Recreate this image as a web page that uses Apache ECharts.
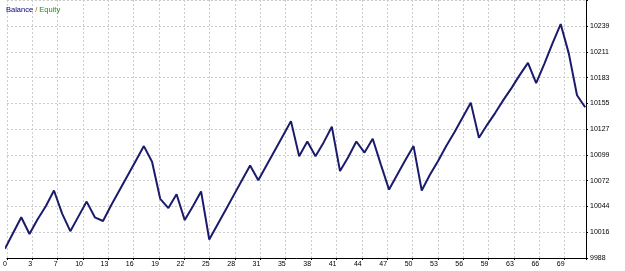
<!DOCTYPE html>
<html>
<head>
<meta charset="utf-8">
<script src="https://cdn.jsdelivr.net/npm/echarts@6/dist/echarts.min.js"></script>
<style>
  html, body { margin: 0; padding: 0; background: #fff; }
  #chart { width: 625px; height: 271px; }
</style>
</head>
<body>
<div id="chart"></div>
<script>
// balance per trade number
const balance = [
  9998, 10015, 10032, 10014, 10030, 10044, 10061, 10036, 10017, 10033,
  10049, 10032, 10028, 10045, 10061, 10077, 10093, 10109, 10092, 10052,
  10042, 10057, 10029, 10044, 10060, 10008, 10024, 10040, 10056, 10072,
  10088, 10072, 10088, 10104, 10120, 10136, 10098, 10114, 10098, 10113,
  10130, 10082, 10097, 10114, 10102, 10117, 10089, 10062, 10078, 10094,
  10109, 10061, 10078, 10093, 10109, 10124, 10140, 10156, 10118, 10132,
  10145, 10159, 10172, 10186, 10199, 10177, 10198, 10220, 10241, 10209,
  10164, 10151
]
const xLabels = ['0','3','7','10','13','16','19','22','25','28','31','35','38','41','44','47','50','53','56','59','63','66','69']
const yLabels = ['9988','10016','10044','10072','10099','10127','10155','10183','10211','10239']

const xMin = 0.24, xStep = 3.1016
const yMin = 9988, yStep = 27.85

const myChart = echarts.init(document.getElementById('chart'))
const option = {
  backgroundColor: '#fff',
  animation: false,
  title: {
    left: 1,
    top: 1,
    text: '{a|Balance} {b|/} {c|Equity}',
    textStyle: {
      fontFamily: 'Liberation Sans',
      fontSize: 7.5,
      fontWeight: 'normal',
      rich: {
        a: { color: '#000080', fontSize: 7.5, fontWeight: 'normal', fontFamily: 'Liberation Sans' },
        b: { color: '#c06000', fontSize: 7.5, fontWeight: 'normal', fontFamily: 'Liberation Sans' },
        c: { color: '#1f8f1f', fontSize: 7.5, fontWeight: 'normal', fontFamily: 'Liberation Sans' }
      }
    }
  },
  grid: {
    left: 0,
    top: 0,
    width: 586,
    height: 258
  },
  xAxis: {
    type: 'value',
    min: xMin,
    max: 71.1,
    interval: xStep,
    axisLine: { show: true, lineStyle: { color: '#000', width: 1 } },
    axisTick: { show: true, length: 2, lineStyle: { color: '#000' } },
    axisLabel: {
      fontSize: 7,
      fontFamily: 'Liberation Sans',
      color: '#000',
      align: 'right',
      margin: 3,
      formatter: function (v) {
        return xLabels[Math.round((v - xMin) / xStep)] || ''
      }
    },
    splitLine: { show: true, lineStyle: { color: '#cccccc', type: [2, 2] } }
  },
  yAxis: {
    type: 'value',
    position: 'right',
    min: yMin,
    max: 10267,
    interval: yStep,
    axisLine: { show: true, lineStyle: { color: '#000', width: 1 } },
    axisTick: { show: true, length: 2, lineStyle: { color: '#000' } },
    axisLabel: {
      fontSize: 7,
      fontFamily: 'Liberation Sans',
      color: '#000',
      margin: 4,
      formatter: function (v) {
        return yLabels[Math.round((v - yMin) / yStep)] || ''
      }
    },
    splitLine: { show: true, lineStyle: { color: '#cccccc', type: [2, 2] } }
  },
  series: [
    {
      name: 'Balance',
      type: 'line',
      data: balance.map((v, i) => [i, v]),
      symbol: 'none',
      clip: true,
      lineStyle: { color: '#1b1b6b', width: 2 }
    }
  ]
}
myChart.setOption(option)
</script>
</body>
</html>
